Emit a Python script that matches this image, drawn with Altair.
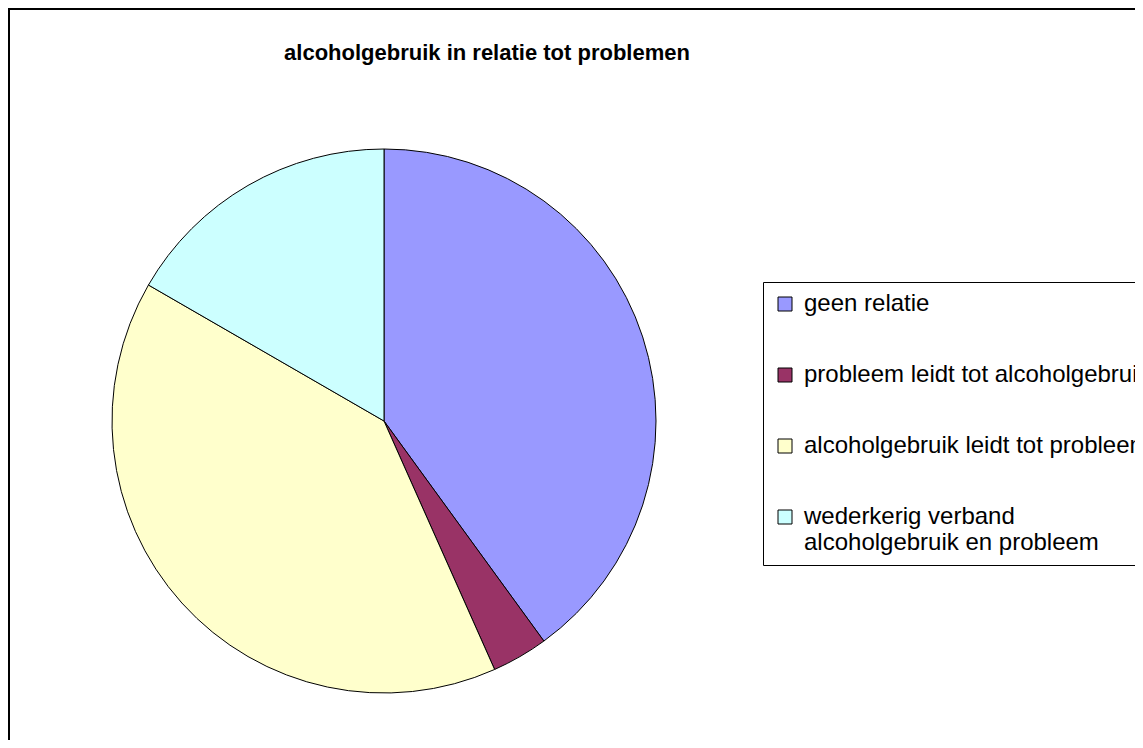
import altair as alt
import pandas as pd

categories = [
    "geen relatie",
    "probleem leidt tot alcoholgebruik",
    "alcoholgebruik leidt tot probleem",
    "wederkerig verband alcoholgebruik en probleem",
]
values = [12, 1, 12, 5]
colors = ["#9999FF", "#993366", "#FFFFCC", "#CCFFFF"]
title_text = "alcoholgebruik in relatie tot problemen"

df = pd.DataFrame({
    "categorie": categories,
    "waarde": values,
    "volgorde": list(range(len(categories))),
})

W, H = 1127, 732
FONT = "Liberation Sans"

label_expr = (
    "datum.label == 'wederkerig verband alcoholgebruik en probleem' ? "
    "['wederkerig verband', 'alcoholgebruik en probleem'] : datum.label"
)

pie = alt.Chart(df).mark_arc(radius=272, stroke="black", strokeWidth=1, opacity=1).encode(
    theta=alt.Theta("waarde:Q", stack=True),
    order=alt.Order("volgorde:Q"),
    color=alt.Color(
        "categorie:N",
        sort=categories,
        scale=alt.Scale(domain=categories, range=colors),
        legend=alt.Legend(
            title=None,
            orient="none",
            legendX=755,
            legendY=274,
            direction="vertical",
            symbolType="square",
            symbolSize=196,
            symbolStrokeColor="black",
            symbolStrokeWidth=1,
            symbolOpacity=1,
            labelFont=FONT,
            labelFontSize=24,
            labelColor="black",
            labelLimit=2000,
            labelOffset=7,
            labelExpr=label_expr,
            rowPadding=47,
            padding=10,
            strokeColor="black",
            fillColor="white",
        ),
    ),
    x=alt.value(376),
    y=alt.value(413),
)

border = alt.Chart(pd.DataFrame({"rand": [0]})).mark_rule(color="black", strokeWidth=2)
top_line = border.encode(x=alt.value(0), x2=alt.value(W), y=alt.value(1))
left_line = border.encode(x=alt.value(1), y=alt.value(0), y2=alt.value(H))

title = alt.Chart(pd.DataFrame({"titel": [title_text]})).mark_text(
    font=FONT, fontSize=22, fontWeight="bold", align="center", baseline="alphabetic", color="black"
).encode(text="titel:N", x=alt.value(479), y=alt.value(52))

chart = alt.layer(pie, top_line, left_line, title).properties(
    width=W,
    height=H,
    autosize=alt.AutoSizeParams(type="none"),
    padding=0,
    background="white",
).configure_view(strokeWidth=0).configure_legend(strokeWidth=1)

chart.save("out.html", embed_options={"renderer": "svg", "actions": False})
